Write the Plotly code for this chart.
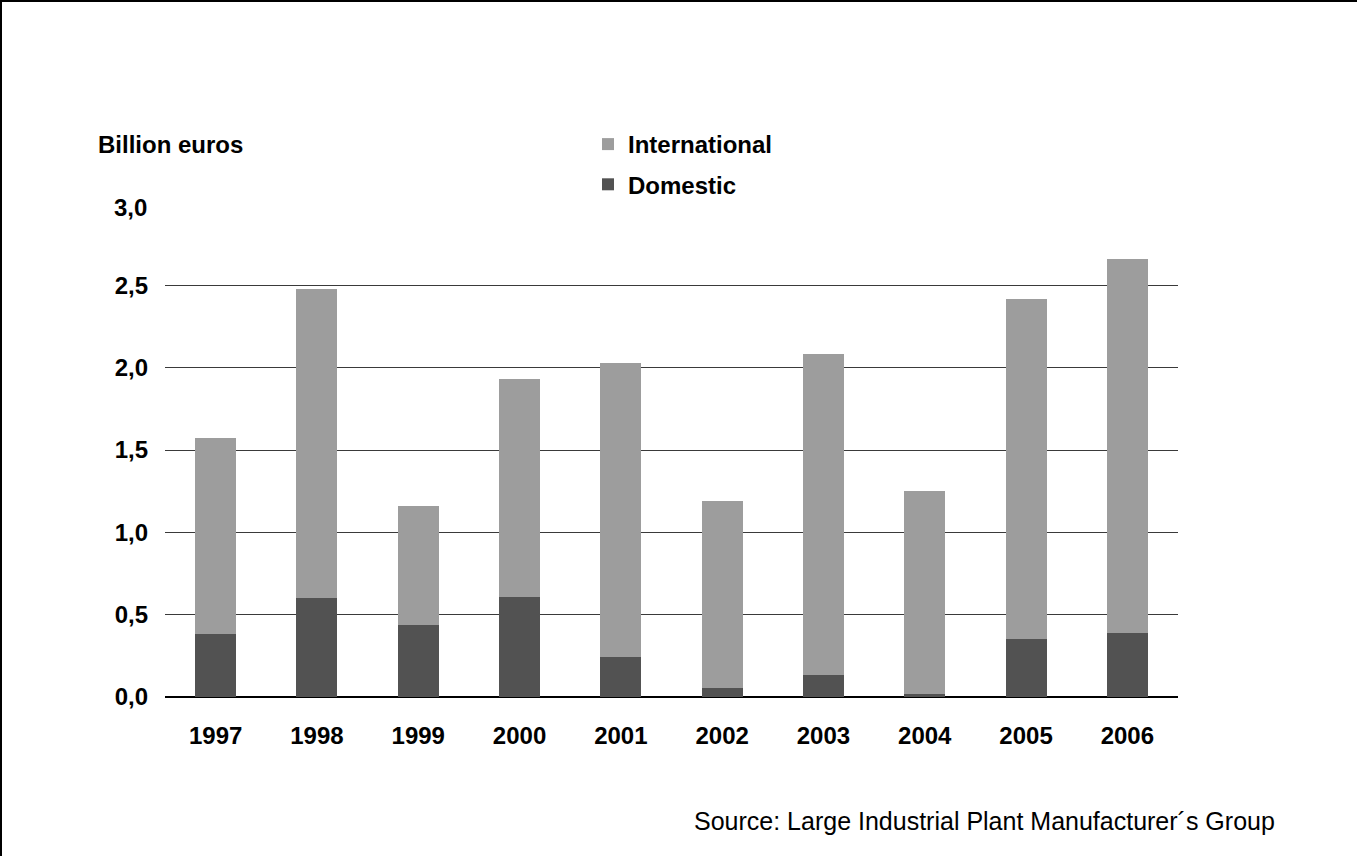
import plotly.graph_objects as go

# ---- data ----
years = ["1997", "1998", "1999", "2000", "2001", "2002", "2003", "2004", "2005", "2006"]
domestic = [0.38, 0.60, 0.44, 0.61, 0.24, 0.055, 0.135, 0.02, 0.35, 0.39]
international = [1.19, 1.88, 0.72, 1.32, 1.79, 1.135, 1.945, 1.23, 2.07, 2.27]
y_ticks = [0.0, 0.5, 1.0, 1.5, 2.0, 2.5, 3.0]
y_title = "Billion euros"
source_text = "Source: Large Industrial Plant Manufacturer´s Group"

# ---- layout geometry (pixels) ----
W, H = 1357, 856
ML, MR, MT, MB = 165, 179, 203, 159
PW, PH = W - ML - MR, H - MT - MB


def px_x(p):
    return (p - ML) / PW


def px_y(p):
    return (H - MB - p) / PH


FONT = "Liberation Sans, Arial, sans-serif"

fig = go.Figure()
fig.add_trace(go.Bar(x=years, y=domestic, name="Domestic",
                     marker=dict(color="#525252", line=dict(width=0)),
                     legendgroup="d", legendrank=2))
fig.add_trace(go.Bar(x=years, y=international, name="International",
                     marker=dict(color="#9d9d9d", line=dict(width=0)),
                     legendgroup="i", legendrank=1))

fig.update_layout(
    width=W, height=H,
    margin=dict(l=ML, r=MR, t=MT, b=MB, pad=0),
    paper_bgcolor="white", plot_bgcolor="white",
    barmode="stack", bargap=0.595,
    separators=",.",
    font=dict(family=FONT, size=24, color="black"),
    showlegend=True,
    legend=dict(
        traceorder="grouped", tracegroupgap=6,
        x=px_x(588), y=px_y(122), xanchor="left", yanchor="top",
        xref="paper", yref="paper",
        font=dict(family=FONT, size=24, color="black", weight="bold"),
        bgcolor="rgba(0,0,0,0)", itemwidth=30,
    ),
    xaxis=dict(
        showgrid=False, showline=False, ticks="", zeroline=False,
        tickfont=dict(family=FONT, size=24, color="black", weight="bold"),
        ticklabelstandoff=22,
    ),
    yaxis=dict(
        range=[y_ticks[0], y_ticks[-1]],
        tickvals=y_ticks[:-1], tickformat=".1f",
        showgrid=True, gridcolor="#3a3a3a", gridwidth=1,
        zeroline=True, zerolinecolor="black", zerolinewidth=2,
        showline=False, ticks="",
        tickfont=dict(family=FONT, size=24, color="black", weight="bold"),
        ticklabelstandoff=16,
    ),
)

# top tick label (no gridline drawn at the top value)
fig.add_annotation(
    x=0, xref="paper", xanchor="right", xshift=-16,
    y=y_ticks[-1], yref="y", yanchor="middle", yshift=-4,
    text=f"{y_ticks[-1]:.1f}".replace(".", ","), showarrow=False,
    font=dict(family=FONT, size=24, color="black", weight="bold"),
)

fig.add_annotation(
    x=px_x(96), y=px_y(145), xref="paper", yref="paper",
    xanchor="left", yanchor="middle", text=f"<b>{y_title}</b>",
    showarrow=False, font=dict(family=FONT, size=24, color="black"),
)

fig.add_annotation(
    x=px_x(1277), y=px_y(821), xref="paper", yref="paper",
    xanchor="right", yanchor="middle", text=source_text,
    showarrow=False, font=dict(family=FONT, size=25, color="black"),
)

# outer frame (left and top edges)
fig.add_shape(type="line", xref="paper", yref="paper",
              x0=px_x(1), x1=px_x(1), y0=px_y(0), y1=px_y(H),
              line=dict(color="black", width=2), layer="above")
fig.add_shape(type="line", xref="paper", yref="paper",
              x0=px_x(0), x1=px_x(W), y0=px_y(1), y1=px_y(1),
              line=dict(color="black", width=2), layer="above")

fig.write_html("out.html")
